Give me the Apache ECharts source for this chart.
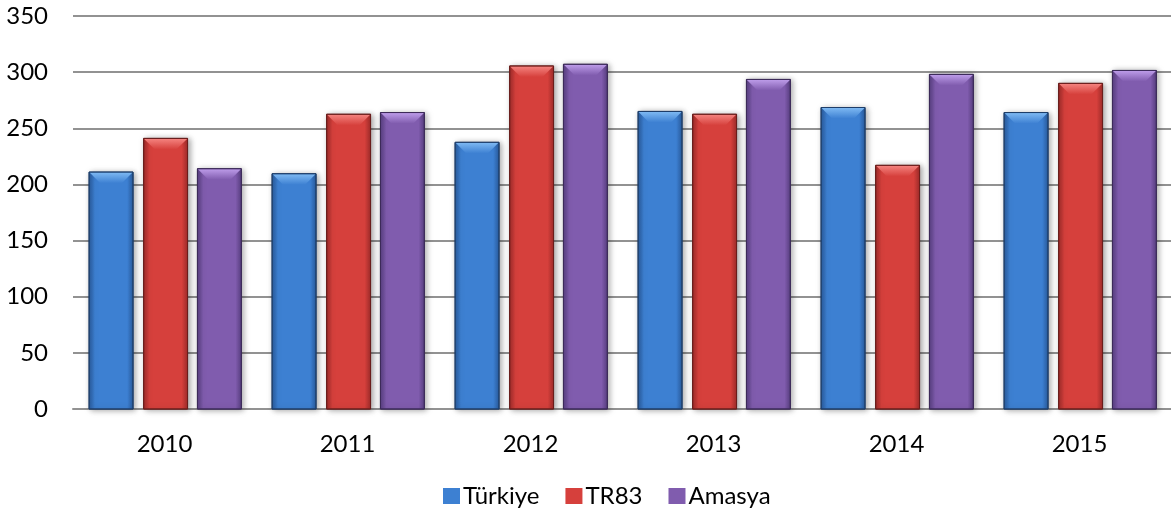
<!DOCTYPE html>
<html>
<head>
<meta charset="utf-8">
<script src="https://cdn.jsdelivr.net/npm/echarts@6/dist/echarts.min.js"></script>
<style>html,body{margin:0;padding:0;background:#fff;}#c{width:1171px;height:515px;}</style>
</head>
<body>
<div id="c"></div>
<script>
const categories = ['2010', '2011', '2012', '2013', '2014', '2015'];
const turkiye = [211, 209.5, 237.5, 265, 268.5, 264];
const tr83 = [241, 262.5, 305.5, 262.5, 217, 290];
const amasya = [214, 264, 307, 293.5, 298, 301.5];
const yTicks = { min: 0, max: 350, interval: 50 };

const palettes = [
  { mid: '#3D80D2', dark: '#285A9C', light: '#7DB8F2', border: '#1E3E6A' },
  { mid: '#D6403C', dark: '#9E2B29', light: '#F4827E', border: '#6A1E1C' },
  { mid: '#805CAE', dark: '#573E80', light: '#BC9BE8', border: '#3D2B5A' }
];
const offsets = [-0.292, 0.006, 0.3];
const barFrac = 0.24;

function makeRender(si) {
  const p = palettes[si];
  return function (params, api) {
    const cat = api.value(0), val = api.value(1);
    const base = api.coord([cat, 0]);
    const top = api.coord([cat, val]);
    const band = api.size([1, 0])[0];
    const w = band * barFrac;
    const cx = base[0] + offsets[si] * band;
    const x = cx - w / 2, y = top[1], h = base[1] - top[1];
    const b = Math.min(12, w / 4);
    const G = echarts.graphic.LinearGradient;
    return {
      type: 'group',
      children: [
        { type: 'rect', shape: { x: x, y: y, width: w, height: h },
          style: { fill: new G(0, 0, 1, 0, [
            { offset: 0, color: p.dark }, { offset: 0.14, color: p.mid },
            { offset: 0.86, color: p.mid }, { offset: 1, color: p.dark }]),
            stroke: p.border, lineWidth: 1,
            shadowBlur: 6, shadowOffsetX: 2, shadowOffsetY: 1, shadowColor: 'rgba(0,0,0,0.35)' } },
        { type: 'polygon', shape: { points: [[x + 0.5, y + 0.5], [x + w - 0.5, y + 0.5], [x + w - b, y + b], [x + b, y + b]] },
          style: { fill: new G(0, 0, 0, 1, [
            { offset: 0, color: p.light }, { offset: 1, color: p.mid }]) } },
        { type: 'rect', shape: { x: x, y: y, width: w, height: h },
          style: { fill: 'none', stroke: p.border, lineWidth: 1 } }
      ]
    };
  };
}

function series(name, arr, si) {
  return {
    name: name, type: 'custom',
    itemStyle: { color: palettes[si].mid },
    renderItem: makeRender(si),
    encode: { x: 0, y: 1 },
    data: arr.map((v, i) => [i, v])
  };
}

const chart = echarts.init(document.getElementById('c'));
const font = 'Lato, "Open Sans", sans-serif';
chart.setOption({
  animation: false,
  textStyle: { fontFamily: font },
  grid: { left: 73, right: 0, top: 16, bottom: 106 },
  xAxis: {
    type: 'category', data: categories,
    axisLine: { lineStyle: { color: '#929292', width: 2 } },
    axisTick: { show: false },
    axisLabel: { color: '#000', fontSize: 24, margin: 23, fontFamily: font }
  },
  yAxis: {
    type: 'value', min: yTicks.min, max: yTicks.max, interval: yTicks.interval,
    axisLine: { show: false }, axisTick: { show: false },
    axisLabel: { color: '#000', fontSize: 24, margin: 25, fontFamily: font },
    splitLine: { lineStyle: { color: '#929292', width: 2 } }
  },
  legend: {
    bottom: 2, left: 438, itemWidth: 17, itemHeight: 16, itemGap: 26,
    icon: 'rect',
    textStyle: { color: '#000', fontSize: 24, padding: [0, 0, 0, -2], fontFamily: font },
    data: ['Türkiye', 'TR83', 'Amasya']
  },
  series: [series('Türkiye', turkiye, 0), series('TR83', tr83, 1), series('Amasya', amasya, 2)]
});
</script>
</body>
</html>
